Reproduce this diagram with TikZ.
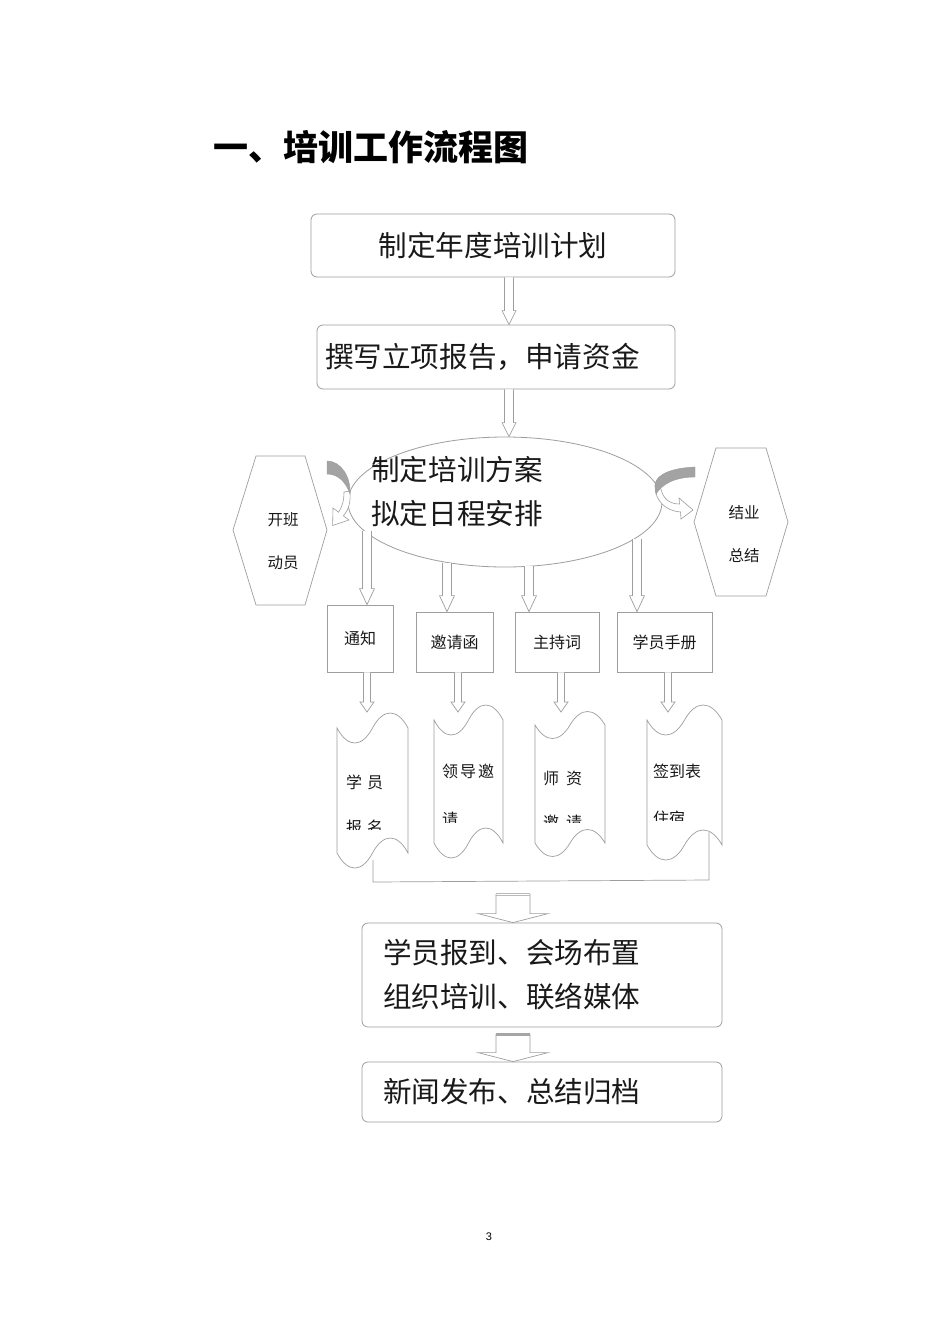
\documentclass[tikz,border=0pt]{standalone}
\usepackage{fontspec}
\setmainfont{Noto Sans CJK SC}
\newfontfamily\lsans{Liberation Sans}
\usetikzlibrary{calc,shapes.geometric}
\definecolor{lc}{gray}{0.62}
\definecolor{bandgray}{gray}{0.64}
\definecolor{txt}{gray}{0.1}
% vertical hollow block arrow: style, start, tip, shaft half, head half, head length
\newcommand\blockarr[6]{%
  \draw[#1] let \p1=#2, \p2=#3 in
    (\x1-#4pt,\y1) -- (\x1-#4pt,\y2+#6pt) -- (\x1-#5pt,\y2+#6pt) -- (\x1,\y2)
    -- (\x1+#5pt,\y2+#6pt) -- (\x1+#4pt,\y2+#6pt) -- (\x1+#4pt,\y1);}
% punched-tape document: L, R, top mid, bottom mid, amplitude
\newcommand\docshape[5]{%
  \draw[docl] (#1,#3) .. controls ({#1+0.15*(#2-#1)},{#3+#5}) and ({#1+0.35*(#2-#1)},{#3+#5}) .. ({(#1+#2)/2},#3)
    .. controls ({#1+0.65*(#2-#1)},{#3-#5}) and ({#1+0.85*(#2-#1)},{#3-#5}) .. (#2,#3)
    -- (#2,#4) .. controls ({#1+0.85*(#2-#1)},{#4-#5}) and ({#1+0.65*(#2-#1)},{#4-#5}) .. ({(#1+#2)/2},#4)
    .. controls ({#1+0.35*(#2-#1)},{#4+#5}) and ({#1+0.15*(#2-#1)},{#4+#5}) .. (#1,#4) -- cycle;}
\begin{document}
\begin{tikzpicture}[x=1pt,y=-1pt,
  rbox/.style={draw=lc, rounded corners=6pt, line width=0.8pt, inner sep=0pt, text=txt},
  sbox/.style={draw=lc, line width=0.8pt, inner sep=0pt, text=txt, font=\fontsize{16}{18}\selectfont},
  big/.style={font=\fontsize{28.6}{32}\selectfont, text=txt},
  small/.style={font=\fontsize{16}{18}\selectfont, text=txt, inner sep=0pt},
  arr/.style={draw=lc, fill=white, line width=0.7pt, line join=miter},
  docl/.style={draw=lc, line width=0.7pt, fill=white},
  conn/.style={draw=lc, line width=0.7pt},
  hexl/.style={draw=lc, line width=0.7pt},
]
\useasboundingbox (0,0) rectangle (950,1344);
\fill[white] (0,0) rectangle (950,1344);

% title
\node[font=\fontsize{35}{40}\selectfont\bfseries, anchor=west, inner sep=0pt, text=black] (title) at (213,147) {一、培训工作流程图};

% top boxes
\node[rbox, big, minimum width=364, minimum height=63] (b1) at (493,245.5) {制定年度培训计划};
\node[rbox, big, text width=342, align=left, inner xsep=8pt, minimum height=64] (b2) at (496,357) {撰写立项报告，申请资金};

% ellipse
\node[ellipse, draw=lc, line width=0.8pt, minimum width=314, minimum height=130, inner sep=0pt] (ell) at (505,502) {};
\node[big, align=left, anchor=west, inner sep=0pt, font=\fontsize{28.6}{44}\selectfont] (et) at (371,492) {制定培训方案\\拟定日程安排};

\coordinate (ax) at (509,0);
\blockarr{arr}{(b1.south -| ax)}{(b2.north -| ax)}{4.5}{7}{14}
\blockarr{arr}{(b2.south -| ax)}{(ell.north -| ax)}{4.5}{7}{14}

% hexagons
\draw[hexl] (256,456) -- (305,456) -- (327,530) -- (305,605) -- (256,605) -- (233,530) -- cycle;
\node[small, font=\fontsize{15.5}{18}\selectfont] (kb1) at (283,520) {开班};
\node[small, font=\fontsize{15.5}{18}\selectfont] (kb2) at (283,563) {动员};
\draw[hexl] (716,448) -- (766,448) -- (788,522) -- (766,596) -- (716,596) -- (694,522) -- cycle;
\node[small, font=\fontsize{15.5}{18}\selectfont] (jy1) at (744,513) {结业};
\node[small, font=\fontsize{15.5}{18}\selectfont] (jy2) at (744,556) {总结};

% left curved arrow
\draw[arr, line width=0.6pt] (350,491) .. controls (351,503) and (348,511) .. (343.4,515.8) -- (349,520) -- (332.6,525.5) -- (333,508) -- (338.6,512.2) .. controls (342,507) and (344,501) .. (344,492) -- cycle;
\fill[bandgray, draw=gray!80, line width=0.4pt] (327,461) .. controls (341,461) and (351,477) .. (350,494) .. controls (346,482) and (338,474) .. (327,474) -- cycle;

% right curved arrow
\draw[arr, line width=0.6pt] (655,486) .. controls (655,501) and (666,511) .. (680.5,512) -- (681,519) -- (693,510) -- (679,498) -- (679.5,504) .. controls (670,504) and (663,499) .. (661,489) -- cycle;
\fill[bandgray, draw=gray!80, line width=0.4pt] (695,467) .. controls (672,468) and (657,474) .. (655,484) -- (656,494) .. controls (662,484) and (675,477) .. (695,477) -- cycle;

% small boxes
\node[sbox, minimum width=66, minimum height=67] (tz) at (360,638.5) {通知};
\node[sbox, minimum width=77, minimum height=60] (yq) at (454.5,642) {邀请函};
\node[sbox, minimum width=84, minimum height=60] (zc) at (557,642) {主持词};
\node[sbox, minimum width=95, minimum height=60] (xs) at (664.5,642) {学员手册};

% arrows from ellipse
\coordinate (e1) at (367,531);
\coordinate (e2) at (447,563);
\coordinate (e3) at (529,566);
\coordinate (e4) at (637,539);
\blockarr{arr}{(e1)}{(tz.north -| e1)}{4.5}{7.5}{16}
\blockarr{arr}{(e2)}{(yq.north -| e2)}{4.5}{7.5}{16}
\blockarr{arr}{(e3)}{(zc.north -| e3)}{4.5}{7.5}{16}
\blockarr{arr}{(e4)}{(xs.north -| e4)}{4.5}{7.5}{16}

% documents
\docshape{337}{408}{728}{853}{20}
\docshape{434}{503}{720}{843}{20}
\docshape{535}{605}{725}{843}{18}
\docshape{647}{722}{720}{845}{20}

% arrows box -> document
\coordinate (d1) at (367,712);
\coordinate (d2) at (458,712);
\coordinate (d3) at (561,712);
\coordinate (d4) at (668,712);
\blockarr{arr}{(tz.south -| d1)}{(d1)}{3.5}{7}{10}
\blockarr{arr}{(yq.south -| d2)}{(d2)}{3.5}{7}{10}
\blockarr{arr}{(zc.south -| d3)}{(d3)}{3.5}{7}{10}
\blockarr{arr}{(xs.south -| d4)}{(d4)}{3.5}{7}{10}

% document texts
\node[small, anchor=west] (t1a) at (346,782) {学\hspace{5pt}员};
\node[small, anchor=west] (t2a) at (442,771) {领\hspace{2pt}导\hspace{2pt}邀};
\node[small, anchor=west] (t3a) at (543,778.5) {师\hspace{7pt}资};
\node[small, anchor=west] (t4a) at (653,771.5) {签到表};
\begin{scope}
  \clip (0,0) rectangle (520,829);
  \node[small, anchor=west] (t1b) at (346,827) {报\hspace{5pt}名};
\end{scope}
\begin{scope}
  \clip (0,0) rectangle (950,822.5);
  \node[small, anchor=west] (t2b) at (442,819) {请};
  \node[small, anchor=west] (t3b) at (543,822) {邀\hspace{7pt}请};
\end{scope}
\begin{scope}
  \clip (600,0) rectangle (950,820.5);
  \node[small, anchor=west] (t4b) at (653,818) {住宿};
\end{scope}

% bracket connector
\coordinate (bk1) at (373,860);
\coordinate (bk2) at (709,832);
\draw[conn] (bk1) -- (373,882) -- (709,880) -- (bk2);

% lower boxes
\node[rbox, text width=318, align=left, inner xsep=21pt, minimum height=104, font=\fontsize{28.6}{44}\selectfont] (m1) at (542,975) {学员报到、会场布置\\组织培训、联络媒体};
\node[rbox, text width=318, align=left, inner xsep=21pt, minimum height=60, font=\fontsize{28.6}{32}\selectfont] (m2) at (542,1092) {新闻发布、总结归档};

\coordinate (g1) at (513,894);
\coordinate (g2) at (513,1034);
\blockarr{arr}{(g1)}{(m1.north -| g1)}{17}{35}{9}
\draw[gray!55, line width=0.6pt] (496,893) -- (530,893);
\draw[gray!55, line width=0.6pt] (496,895.5) -- (530,895.5);
\blockarr{arr}{(g2)}{(m2.north -| g2)}{17}{35}{9}
\draw[gray!70, line width=3pt] (496,1034) -- (530,1034);

% page number
\node[font=\lsans\fontsize{11}{13}\selectfont, inner sep=0pt] (pg) at (489,1237) {3};
\end{tikzpicture}
\end{document}
